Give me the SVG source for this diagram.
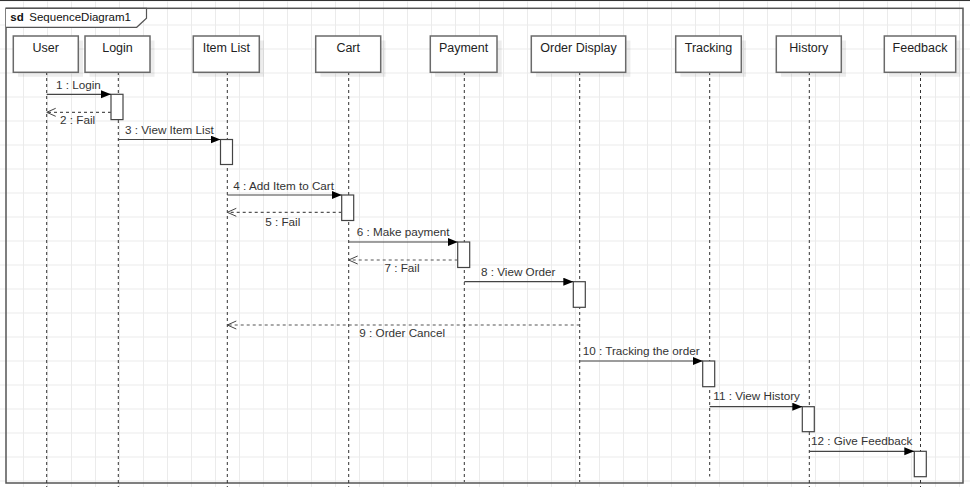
<svg xmlns="http://www.w3.org/2000/svg" width="970" height="487" viewBox="0 0 970 487">
<defs>
<pattern id="grid" x="23" y="0.5" width="24" height="24" patternUnits="userSpaceOnUse">
<path d="M0.5 0 V24 M0 0.5 H24" stroke="#ebebeb" stroke-width="1" fill="none"/>
</pattern>
<marker id="fill" markerUnits="userSpaceOnUse" markerWidth="11" markerHeight="9" refX="10" refY="4" orient="auto">
<path d="M0,0 L10,4 L0,8 z" fill="#000"/>
</marker>
<marker id="open" markerUnits="userSpaceOnUse" markerWidth="11" markerHeight="10" refX="9.5" refY="4.5" orient="auto">
<path d="M0.5,0.5 L9.5,4.5 L0.5,8.5" fill="none" stroke="#444" stroke-width="1"/>
</marker>
</defs>
<style>
.box{fill:#fff;stroke:#6a6a6a;stroke-width:1.5}
.shadow{fill:#000;opacity:0.07}
.ll{stroke:#333;stroke-width:1;stroke-dasharray:3 3;fill:none}
.act{fill:#fff;stroke:#444;stroke-width:1.2}
.name{font-family:"Liberation Sans",Arial,sans-serif;font-size:12.5px;fill:#222;text-anchor:middle}
.lbl{font-family:"Liberation Sans",Arial,sans-serif;font-size:11.7px;fill:#333}
.msg{stroke:#444;stroke-width:1.2;fill:none;marker-end:url(#fill)}
.ret{stroke:#555;stroke-width:1.2;stroke-dasharray:3 3;fill:none;marker-end:url(#open)}
</style>
<rect width="970" height="487" fill="#fff"/>
<rect width="970" height="487" fill="url(#grid)"/>
<line x1="0" y1="0.5" x2="970" y2="0.5" stroke="#333" stroke-width="1.2"/>
<g id="frame">
<rect x="6" y="8.3" width="957" height="474.7" fill="none" stroke="#555" stroke-width="1.5"/>
<path d="M6,8.3 H146.5 V18.3 L136.7,27.3 H6" fill="#fff" stroke="#555" stroke-width="1.2"/>
<text x="10.3" y="21" font-family="'Liberation Sans',Arial,sans-serif" font-size="11.5px" font-weight="bold" fill="#111">sd</text>
<text x="29.3" y="21" font-family="'Liberation Sans',Arial,sans-serif" font-size="11.5px" fill="#111">SequenceDiagram1</text>
</g>
<g id="user">
<line class="ll" x1="46.7" y1="72" x2="46.7" y2="487"/>
<rect class="shadow" x="18" y="40.5" width="65" height="36.3"/>
<rect class="box" x="13.3" y="36" width="65" height="36.3"/>
<text class="name" x="45.8" y="52.2">User</text>
</g>
<g id="login">
<line class="ll" x1="118.3" y1="72" x2="118.3" y2="487"/>
<rect class="shadow" x="89.5" y="40.5" width="65" height="36.3"/>
<rect class="box" x="85" y="36" width="65" height="36.3"/>
<text class="name" x="117.5" y="52.2">Login</text>
<rect class="act" x="111" y="94.3" width="12" height="25.3"/>
</g>
<g id="itemlist">
<line class="ll" x1="227.3" y1="72" x2="227.3" y2="487"/>
<rect class="shadow" x="198" y="40.5" width="66" height="36.3"/>
<rect class="box" x="193.3" y="36" width="66" height="36.3"/>
<text class="name" x="226.3" y="52.2">Item List</text>
<rect class="act" x="220.5" y="139.5" width="12" height="25"/>
</g>
<g id="cart">
<line class="ll" x1="348.7" y1="72" x2="348.7" y2="487"/>
<rect class="shadow" x="320.5" y="40.5" width="65" height="36.3"/>
<rect class="box" x="315.7" y="36" width="65" height="36.3"/>
<text class="name" x="348.2" y="52.2">Cart</text>
<rect class="act" x="341.7" y="195" width="12" height="25.5"/>
</g>
<g id="payment">
<line class="ll" x1="464.3" y1="72" x2="464.3" y2="482"/>
<rect class="shadow" x="435" y="40.5" width="66.7" height="36.3"/>
<rect class="box" x="430.3" y="36" width="66.7" height="36.3"/>
<text class="name" x="463.6" y="52.2">Payment</text>
<rect class="act" x="457.7" y="242" width="12" height="25.5"/>
</g>
<g id="orderdisplay">
<line class="ll" x1="579.7" y1="72" x2="579.7" y2="482"/>
<rect class="shadow" x="536" y="40.5" width="94.4" height="36.3"/>
<rect class="box" x="531.3" y="36" width="94.4" height="36.3"/>
<text class="name" x="578.5" y="52.2">Order Display</text>
<rect class="act" x="573.3" y="281.7" width="12" height="25.6"/>
</g>
<g id="tracking">
<line class="ll" x1="709.7" y1="72" x2="709.7" y2="476.5"/>
<rect class="shadow" x="680.4" y="40.5" width="65.6" height="36.3"/>
<rect class="box" x="675.7" y="36" width="65.6" height="36.3"/>
<text class="name" x="708.5" y="52.2">Tracking</text>
<rect class="act" x="702.7" y="361" width="12" height="25.7"/>
</g>
<g id="history">
<line class="ll" x1="809.3" y1="72" x2="809.3" y2="487"/>
<rect class="shadow" x="781" y="40.5" width="65" height="36.3"/>
<rect class="box" x="776.3" y="36" width="65" height="36.3"/>
<text class="name" x="808.8" y="52.2">History</text>
<rect class="act" x="802.3" y="406.7" width="12" height="25"/>
</g>
<g id="feedback">
<line class="ll" x1="920.5" y1="72" x2="920.5" y2="487"/>
<rect class="shadow" x="889" y="40.5" width="71.4" height="36.3"/>
<rect class="box" x="884.3" y="36" width="71.4" height="36.3"/>
<text class="name" x="920" y="52.2">Feedback</text>
<rect class="act" x="914.3" y="451.3" width="12" height="25.4"/>
</g>
<g id="connectors">
<line class="msg" x1="46.7" y1="94.3" x2="111" y2="94.3"/>
<text class="lbl" x="56" y="88.5">1 : Login</text>
<line class="ret" x1="111" y1="112.3" x2="46.7" y2="112.3"/>
<text class="lbl" x="60" y="124.2">2 : Fail</text>
<line class="msg" x1="118.3" y1="139.5" x2="220.5" y2="139.5"/>
<text class="lbl" x="125" y="134">3 : View Item List</text>
<line class="msg" x1="227.3" y1="195" x2="341.7" y2="195"/>
<text class="lbl" x="233.3" y="189.8">4 : Add Item to Cart</text>
<line class="ret" x1="341.7" y1="212.3" x2="227.3" y2="212.3"/>
<text class="lbl" x="282.7" y="225.8" text-anchor="middle">5 : Fail</text>
<line class="msg" x1="348.7" y1="242" x2="457.7" y2="242"/>
<text class="lbl" x="356.7" y="235.8">6 : Make payment</text>
<line class="ret" x1="457.7" y1="260" x2="348.7" y2="260"/>
<text class="lbl" x="402" y="271.8" text-anchor="middle">7 : Fail</text>
<line class="msg" x1="464.3" y1="281.7" x2="573.3" y2="281.7"/>
<text class="lbl" x="481" y="276">8 : View Order</text>
<line class="ret" x1="579.7" y1="325" x2="227.3" y2="325"/>
<text class="lbl" x="359.3" y="337.4">9 : Order Cancel</text>
<line class="msg" x1="579.7" y1="361" x2="702.7" y2="361"/>
<text class="lbl" x="582.7" y="355">10 : Tracking the order</text>
<line class="msg" x1="709.7" y1="406.7" x2="802.3" y2="406.7"/>
<text class="lbl" x="713.3" y="400">11 : View History</text>
<line class="msg" x1="809.3" y1="451.3" x2="914.3" y2="451.3"/>
<text class="lbl" x="811" y="445.3">12 : Give Feedback</text>
</g>
</svg>
